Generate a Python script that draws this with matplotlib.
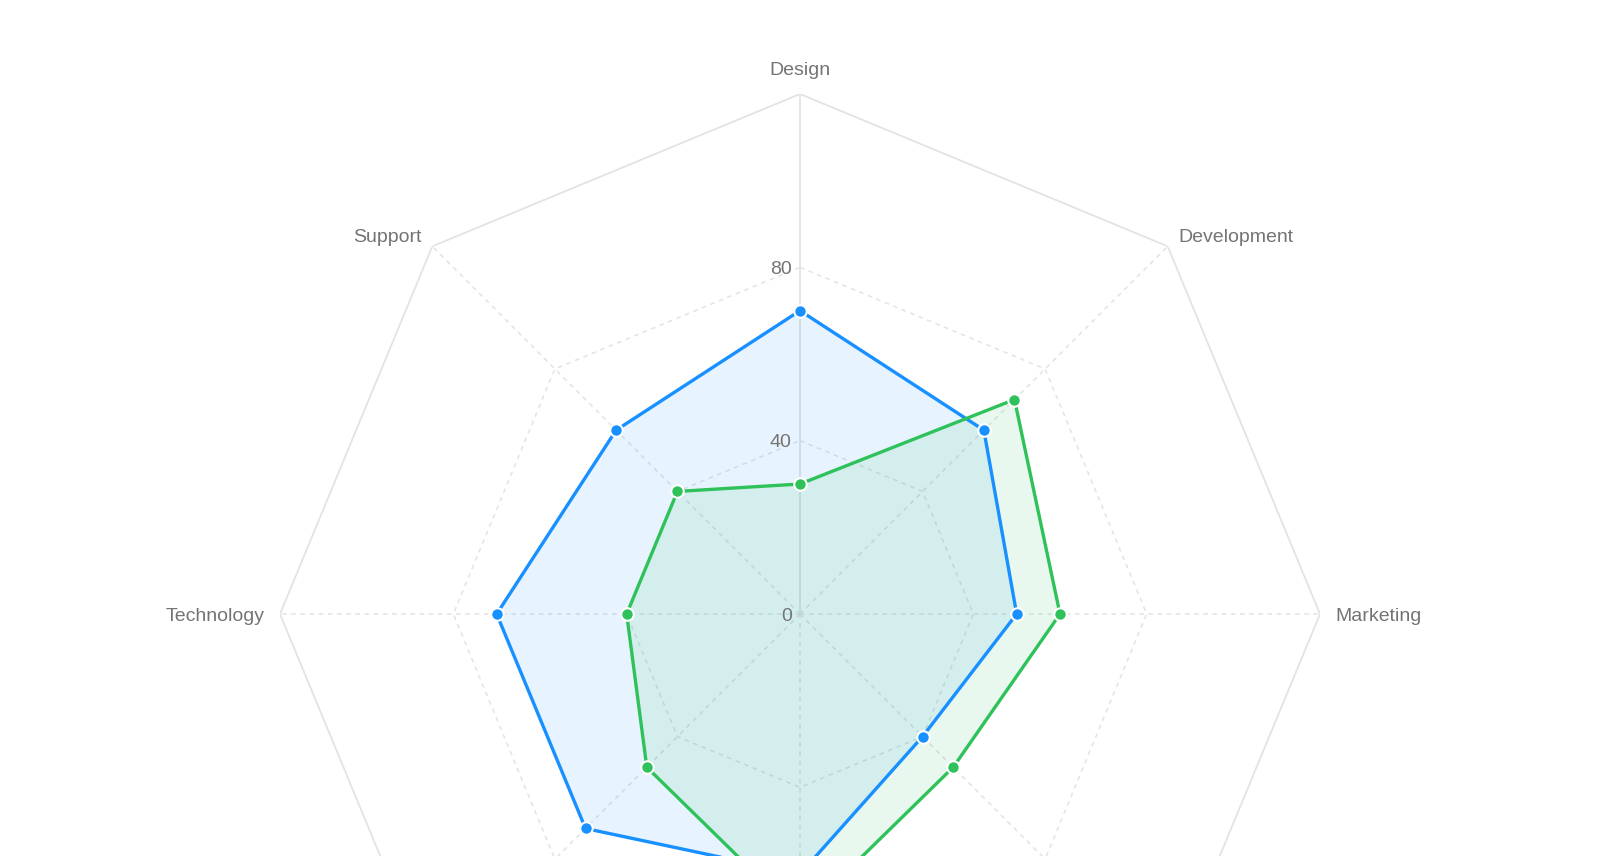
import matplotlib
matplotlib.use('Agg')
import numpy as np
import matplotlib.pyplot as plt

plt.rcParams['font.family'] = ['Liberation Sans', 'DejaVu Sans']

# categories clockwise from the top
categories = ['Design', 'Development', 'Marketing', 'Sales',
              'Operations', 'Finance', 'Technology', 'Support']
blue_values = [70, 60, 50, 40, 60, 70, 70, 60]
green_values = [30, 70, 60, 50, 70, 50, 40, 40]
radial_ticks = [0, 40, 80]
r_max = 120

BLUE = '#1890ff'
GREEN = '#2fc25b'
GRID = '#e3e3e3'
TEXT = '#747474'

fig = plt.figure(figsize=(16, 8.56), dpi=100)
# axes bigger than the canvas: chart is cut at the bottom like the reference
ax = fig.add_axes([280 / 1600, (242 - 520) / 856, 1040 / 1600, 1040 / 856],
                  projection='polar')
ax.set_theta_zero_location('N')
ax.set_theta_direction(-1)
ax.set_ylim(0, r_max)
ax.grid(False)
ax.spines['polar'].set_visible(False)
ax.set_xticks([])
ax.set_yticks([])
ax.patch.set_alpha(0)

n = len(categories)
theta = np.arange(n) * 2 * np.pi / n
theta_c = np.append(theta, theta[0])

# polygon grid
for r in [40, 80]:
    ax.plot(theta_c, [r] * (n + 1), color=GRID, lw=1.1, ls=(0, (3, 3)), zorder=1)
ax.plot(theta_c, [r_max] * (n + 1), color=GRID, lw=1.3, zorder=1)
for i, t in enumerate(theta):
    if i == 0:
        ax.plot([t, t], [0, r_max], color=GRID, lw=1.3, zorder=1)
    else:
        ax.plot([t, t], [0, r_max], color=GRID, lw=1.1, ls=(0, (3, 3)), zorder=1)

# radial tick labels
for v in radial_ticks:
    ax.annotate(str(v), xy=(0, v), xytext=(-6, -1.5), textcoords='offset points',
                ha='right', va='center', fontsize=14, color=TEXT, zorder=5)

# category labels (the lower ones fall below the canvas, as in the reference)
for t, name in zip(theta, categories):
    s, c = np.sin(t), np.cos(t)
    if c < -0.1:
        continue
    ha = 'center' if abs(s) < 0.1 else ('left' if s > 0 else 'right')
    if c > 0.99:
        va, dy = 'bottom', 11 * c
    else:
        va, dy = 'center', 11 * c - 1.5
    ax.annotate(name, xy=(t, r_max), xytext=(11 * s, dy),
                textcoords='offset points', ha=ha, va=va,
                fontsize=14, color=TEXT, annotation_clip=False)

for vals, color in [(blue_values, BLUE), (green_values, GREEN)]:
    vc = np.append(vals, vals[0])
    ax.fill(theta_c, vc, color=color, alpha=0.1, lw=0, zorder=2)
for vals, color in [(blue_values, BLUE), (green_values, GREEN)]:
    vc = np.append(vals, vals[0])
    ax.plot(theta_c, vc, color=color, lw=2.4, zorder=3)
    ax.plot(theta, vals, 'o', color=color, ms=9, mec='white', mew=1.5, zorder=4)

plt.savefig('out.png', dpi=100)
